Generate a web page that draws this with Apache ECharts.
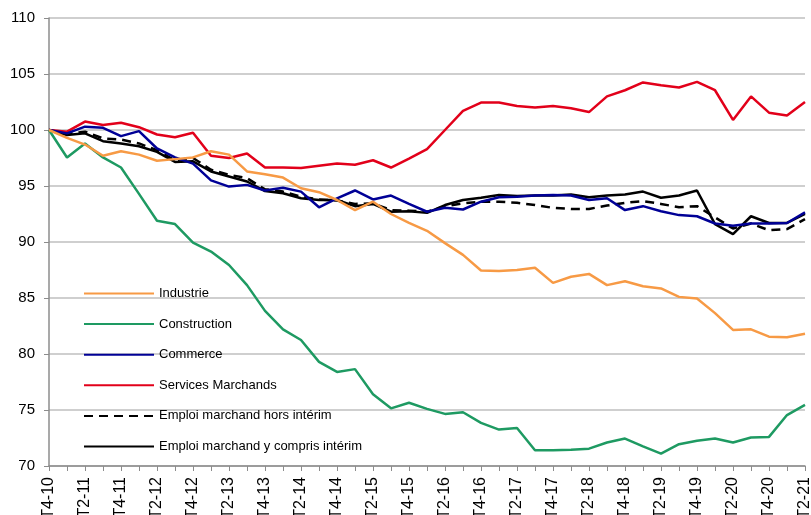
<!DOCTYPE html>
<html>
<head>
<meta charset="utf-8">
<script src="https://cdn.jsdelivr.net/npm/echarts@6/dist/echarts.min.js"></script>
<style>
html,body{margin:0;padding:0;background:#fff;}
#chart{width:811px;height:515px;}
</style>
</head>
<body>
<div id="chart"></div>
<script>
// trimestres T4-10 ... T2-21
var quarters = ['T4-10'];
for (var y = 11; y <= 21; y++) {
    for (var q = 1; q <= 4; q++) {
        if (y == 21 && q > 2) break;
        quarters.push('T' + q + '-' + y);
    }
}

var industrie = [100, 99.3, 98.7, 97.7, 98.1, 97.8, 97.25, 97.4, 97.55, 98.1, 97.8, 96.3, 96.05, 95.75, 94.8,
    94.45, 93.75, 92.85, 93.6, 92.5, 91.7, 91.0, 89.9, 88.85, 87.45, 87.4, 87.5, 87.7, 86.35, 86.9,
    87.15, 86.15, 86.5, 86.05, 85.85, 85.1, 84.95, 83.65, 82.15, 82.2, 81.55, 81.5, 81.8];
var construction = [100, 97.55, 98.8, 97.55, 96.65, 94.3, 91.9, 91.6, 89.95, 89.15, 87.95, 86.15, 83.85, 82.2, 81.25,
    79.3, 78.4, 78.65, 76.4, 75.15, 75.65, 75.1, 74.65, 74.8, 73.85, 73.25, 73.4, 71.4, 71.4, 71.45,
    71.55, 72.1, 72.45, 71.75, 71.1, 71.95, 72.25, 72.45, 72.1, 72.55, 72.6, 74.55, 75.45];
var commerce = [100, 99.7, 100.3, 100.2, 99.45, 99.9, 98.35, 97.55, 97.0, 95.5, 94.95, 95.1, 94.6, 94.85, 94.5,
    93.1, 93.9, 94.6, 93.8, 94.15, 93.4, 92.7, 93.05, 92.9, 93.6, 94.0, 94.05, 94.15, 94.2, 94.15,
    93.75, 93.9, 92.85, 93.2, 92.75, 92.4, 92.3, 91.65, 91.45, 91.65, 91.65, 91.7, 92.65];
var services = [100, 99.85, 100.75, 100.45, 100.65, 100.25, 99.6, 99.35, 99.75, 97.7, 97.5, 97.9, 96.65, 96.65, 96.6,
    96.8, 97.0, 96.9, 97.3, 96.65, 97.45, 98.3, 100.0, 101.7, 102.45, 102.45, 102.15, 102.0, 102.15, 101.95,
    101.6, 103.0, 103.55, 104.25, 104.0, 103.8, 104.3, 103.55, 100.9, 103.0, 101.55, 101.3, 102.5];
var horsInterim = [100, 99.65, 99.85, 99.25, 99.15, 98.8, 98.2, 97.3, 97.5, 96.45, 96.0, 95.7, 94.7, 94.5, 94.05,
    93.8, 93.7, 93.4, 93.45, 92.85, 92.8, 92.7, 93.2, 93.45, 93.6, 93.6, 93.5, 93.3, 93.05, 92.95,
    92.95, 93.25, 93.5, 93.65, 93.4, 93.1, 93.2, 92.2, 91.2, 91.65, 91.05, 91.15, 92.05];
var avecInterim = [100, 99.55, 99.7, 99.0, 98.8, 98.55, 98.05, 97.15, 97.2, 96.3, 95.85, 95.4, 94.55, 94.35, 93.9,
    93.75, 93.75, 93.2, 93.4, 92.7, 92.75, 92.6, 93.3, 93.75, 93.95, 94.2, 94.1, 94.15, 94.15, 94.25,
    94.0, 94.15, 94.25, 94.5, 93.95, 94.15, 94.6, 91.6, 90.7, 92.3, 91.7, 91.7, 92.5];

var seriesNames = ['Industrie', 'Construction', 'Commerce', 'Services Marchands',
    'Emploi marchand hors intérim', 'Emploi marchand y compris intérim'];
var seriesData = [industrie, construction, commerce, services, horsInterim, avecInterim];
var seriesColors = ['#F79A45', '#1E9A62', '#000096', '#E2001A', '#000000', '#000000'];

var chart = echarts.init(document.getElementById('chart'));

var series = [];
for (var i = 0; i < seriesNames.length; i++) {
    series.push({
        name: seriesNames[i],
        type: 'line',
        data: seriesData[i],
        symbol: 'none',
        silent: true,
        z: 10 - i,
        color: seriesColors[i],
        lineStyle: {
            width: 2.5,
            color: seriesColors[i],
            type: i == 4 ? [9, 6] : 'solid'
        }
    });
}

chart.setOption({
    animation: false,
    textStyle: {fontFamily: 'Liberation Sans, Arial, sans-serif'},
    grid: {left: 49, right: 6, top: 18, bottom: 49, outerBoundsMode: 'none'},
    legend: {
        orient: 'vertical',
        left: 83,
        top: 287,
        padding: 0,
        itemWidth: 70,
        itemHeight: 14,
        itemGap: 17.6,
        itemStyle: {opacity: 0},   // pas de symbole, juste le trait
        textStyle: {fontSize: 13, color: '#000'},
        data: seriesNames
    },
    xAxis: {
        type: 'category',
        boundaryGap: false,
        data: quarters,
        axisLine: {lineStyle: {color: '#8c8c8c', width: 1.5}},
        axisTick: {show: true, interval: 0, length: 5, lineStyle: {color: '#8c8c8c'}},
        axisLabel: {interval: 1, rotate: 90, fontSize: 16, color: '#000', margin: 11}
    },
    yAxis: {
        type: 'value',
        min: 70,
        max: 110,
        interval: 5,
        axisLine: {show: true, lineStyle: {color: '#8c8c8c', width: 1.5}},
        axisTick: {show: true, length: 5, lineStyle: {color: '#8c8c8c'}},
        axisLabel: {fontSize: 15, color: '#000', margin: 14},
        splitLine: {lineStyle: {color: '#bfbfbf', width: 1.5}}
    },
    series: series
});
</script>
</body>
</html>
